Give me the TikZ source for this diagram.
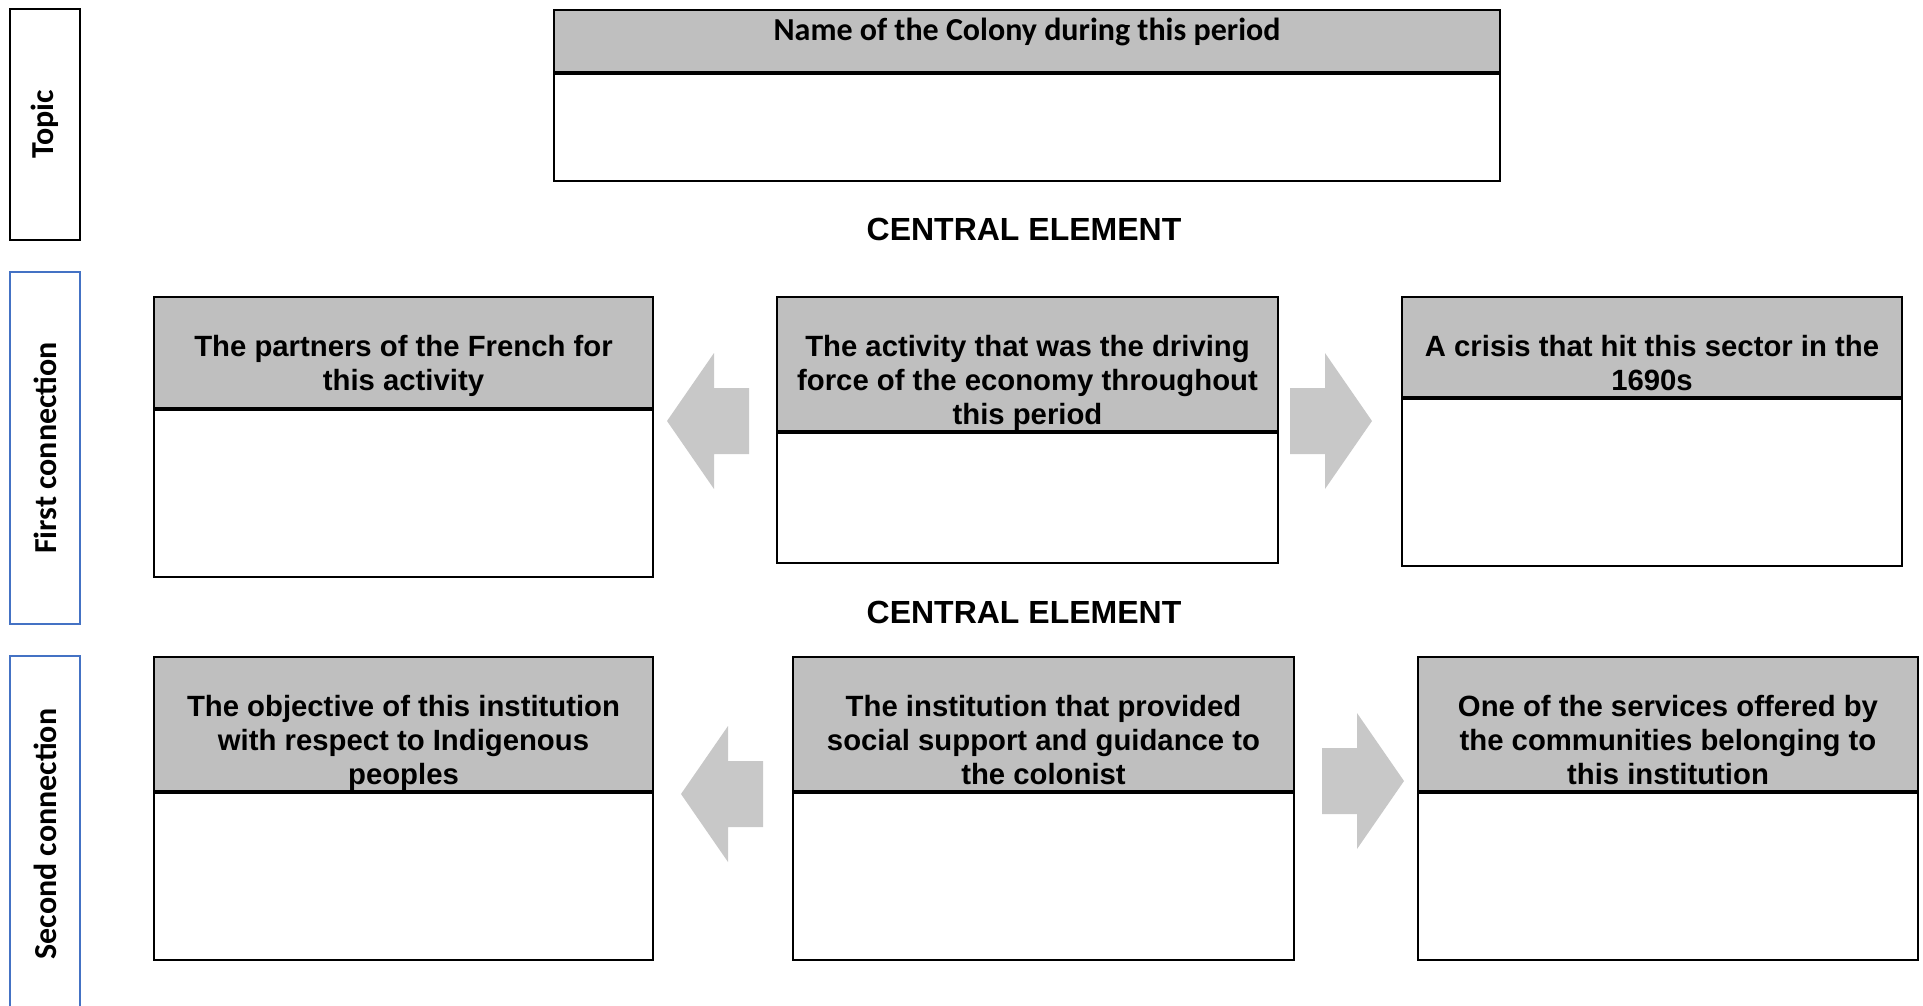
\documentclass[tikz,border=0pt]{standalone}
\usepackage{fontspec}
\newfontfamily\arial{Liberation Sans}
\newfontfamily\calibri{Carlito}
\usetikzlibrary{positioning}

\definecolor{hdrgray}{HTML}{BFBFBF}
\definecolor{arrowgray}{HTML}{C8C8C8}
\definecolor{sideblue}{HTML}{4472C4}

\begin{document}
\begin{tikzpicture}
  [x=1pt, y=-1pt, line width=2pt,
   head/.style={draw, fill=hdrgray, anchor=north west, inner sep=0pt},
   answer/.style={draw, fill=white, anchor=north west, inner sep=0pt},
   prompt/.style={anchor=north, align=center, inner sep=0pt,
                  font=\arial\bfseries\fontsize{29.3}{34}\selectfont},
   side/.style={draw, rotate=90, inner sep=0pt, minimum height=70,
                font=\calibri\bfseries\fontsize{32}{36}\selectfont},
   central/.style={font=\arial\bfseries\fontsize{32}{36}\selectfont},
   pointleft/.pic={\fill[arrowgray] (0,0) -- (47,-68) -- (47,-33) -- (82,-33)
                   -- (82,33) -- (47,33) -- (47,68) -- cycle;}]

  \useasboundingbox (0,0) rectangle (1923,1005);

  % labels on the left
  \node[side, minimum width=231]                (topic)  at (45,124.5) {Topic};
  \node[side, draw=sideblue, minimum width=352] (first)  at (45,448)   {First connection};
  \node[side, draw=sideblue, minimum width=356] (second) at (45,834)   {Second connection};

  % topic
  \node[head, minimum width=946, minimum height=62]    (colonyH) at (553,9) {};
  \node[answer, minimum width=946, minimum height=107] (colonyB) at (colonyH.south west) {};
  \node[anchor=base, inner sep=0pt, font=\calibri\bfseries\fontsize{32}{36}\selectfont]
       (colonyT) at ([yshift=-31pt]colonyH.north) {Name of the Colony during this period};

  % first connection
  \node[central] (centralA) at (1024,229) {CENTRAL ELEMENT};

  \node[head, minimum width=499, minimum height=111]   (partnersH) at (153,296) {};
  \node[answer, minimum width=499, minimum height=167] (partnersB) at (partnersH.south west) {};
  \node[prompt] (partnersT) at ([yshift=-38pt]partnersH.north)
       {The partners of the French for\\this activity};

  \node[head, minimum width=501, minimum height=134]   (activityH) at (776,296) {};
  \node[answer, minimum width=501, minimum height=130] (activityB) at (activityH.south west) {};
  \node[prompt] (activityT) at ([yshift=-38pt]activityH.north)
       {The activity that was the driving\\force of the economy throughout\\this period};

  \node[head, minimum width=500, minimum height=100]   (crisisH) at (1401,296) {};
  \node[answer, minimum width=500, minimum height=167] (crisisB) at (crisisH.south west) {};
  \node[prompt] (crisisT) at ([yshift=-38pt]crisisH.north)
       {A crisis that hit this sector in the\\1690s};

  \pic at (667,421) {pointleft};
  \pic[xscale=-1] at (1372,421) {pointleft};

  % second connection
  \node[central] (centralB) at (1024,612) {CENTRAL ELEMENT};

  \node[head, minimum width=499, minimum height=134]   (objectiveH) at (153,656) {};
  \node[answer, minimum width=499, minimum height=167] (objectiveB) at (objectiveH.south west) {};
  \node[prompt] (objectiveT) at ([yshift=-38pt]objectiveH.north)
       {The objective of this institution\\with respect to Indigenous\\peoples};

  \node[head, minimum width=501, minimum height=134]   (institutionH) at (792,656) {};
  \node[answer, minimum width=501, minimum height=167] (institutionB) at (institutionH.south west) {};
  \node[prompt] (institutionT) at ([yshift=-38pt]institutionH.north)
       {The institution that provided\\social support and guidance to\\the colonist};

  \node[head, minimum width=500, minimum height=134]   (servicesH) at (1417,656) {};
  \node[answer, minimum width=500, minimum height=167] (servicesB) at (servicesH.south west) {};
  \node[prompt] (servicesT) at ([yshift=-38pt]servicesH.north)
       {One of the services offered by\\the communities belonging to\\this institution};

  \pic at (681,794) {pointleft};
  \pic[xscale=-1] at (1404,781) {pointleft};
\end{tikzpicture}
\end{document}
